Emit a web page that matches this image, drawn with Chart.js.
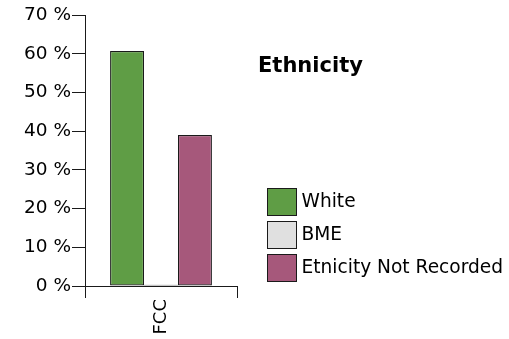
<!DOCTYPE html>
<html>
<head>
<meta charset="utf-8">
<script src="https://cdn.jsdelivr.net/npm/chart.js@4/dist/chart.umd.min.js"></script>
<style>
  html, body { margin: 0; padding: 0; background: #fff; }
  #wrap { width: 509px; height: 339px; position: relative; }
</style>
</head>
<body>
<div id="wrap"><canvas id="c" width="509" height="339"></canvas></div>
<script>
// Share of records by ethnicity group
const categories = ['FCC'];
const seriesNames = ['White', 'BME', 'Etnicity Not Recorded'];
const white = [60.7];
const bme = [0.3];
const notRecorded = [39.0];
const yTicks = [0, 10, 20, 30, 40, 50, 60, 70];
const chartTitle = 'Ethnicity';

const fills = ['#5f9d45', '#e0e0e0', '#a6587b'];
const edge = '#1a1a1a';
const FONT = "'DejaVu Sans', Verdana, sans-serif";

// Title and a boxed legend drawn to the right of the plot
const sideLegend = {
  id: 'sideLegend',
  afterDraw(chart) {
    const ctx = chart.ctx;
    ctx.save();
    ctx.fillStyle = '#000';
    ctx.font = 'bold 21px ' + FONT;
    ctx.textBaseline = 'alphabetic';
    ctx.textAlign = 'left';
    ctx.fillText(chartTitle, 258, 72);

    ctx.font = '18.6px ' + FONT;
    ctx.textBaseline = 'middle';
    chart.data.datasets.forEach((ds, i) => {
      const y = 188.5 + i * 33;
      ctx.fillStyle = ds.backgroundColor;
      ctx.fillRect(267.5, y, 29, 27);
      ctx.strokeStyle = edge;
      ctx.lineWidth = 1;
      ctx.strokeRect(267.5, y, 29, 27);
      ctx.fillStyle = '#000';
      ctx.fillText(ds.label, 301.5, y + 14);
    });
    ctx.restore();
  }
};

const seriesValues = [white, bme, notRecorded];

new Chart(document.getElementById('c'), {
  type: 'bar',
  data: {
    labels: categories,
    datasets: seriesNames.map((name, i) => ({
      label: name,
      data: seriesValues[i],
      backgroundColor: fills[i],
      borderColor: edge,
      borderWidth: 1.2,
      borderSkipped: false,
      categoryPercentage: 0.67,
      barPercentage: 1.0
    }))
  },
  options: {
    responsive: false,
    animation: false,
    devicePixelRatio: 1,
    layout: { padding: { top: 15, right: 272, bottom: 0, left: 0 } },
    plugins: {
      legend: { display: false },
      title: { display: false },
      tooltip: { enabled: false }
    },
    scales: {
      x: {
        grid: {
          display: true,
          offset: true,
          drawOnChartArea: false,
          drawTicks: true,
          tickLength: 12,
          color: edge,
          lineWidth: 1
        },
        border: { display: true, color: edge, width: 1 },
        ticks: {
          color: '#000',
          font: { family: FONT, size: 18 },
          minRotation: 90,
          maxRotation: 90,
          padding: 1
        },
        afterFit(scale) { scale.height = 53; }
      },
      y: {
        min: 0,
        max: 70,
        afterBuildTicks(scale) { scale.ticks = yTicks.map(v => ({ value: v })); },
        grid: {
          display: true,
          drawOnChartArea: false,
          drawTicks: true,
          tickLength: 13,
          color: edge,
          lineWidth: 1
        },
        border: { display: true, color: edge, width: 1 },
        ticks: {
          color: '#000',
          font: { family: FONT, size: 18.5 },
          padding: 1,
          callback: v => v + ' %'
        },
        afterFit(scale) { scale.width = 85; }
      }
    }
  },
  plugins: [sideLegend]
});
</script>
</body>
</html>
